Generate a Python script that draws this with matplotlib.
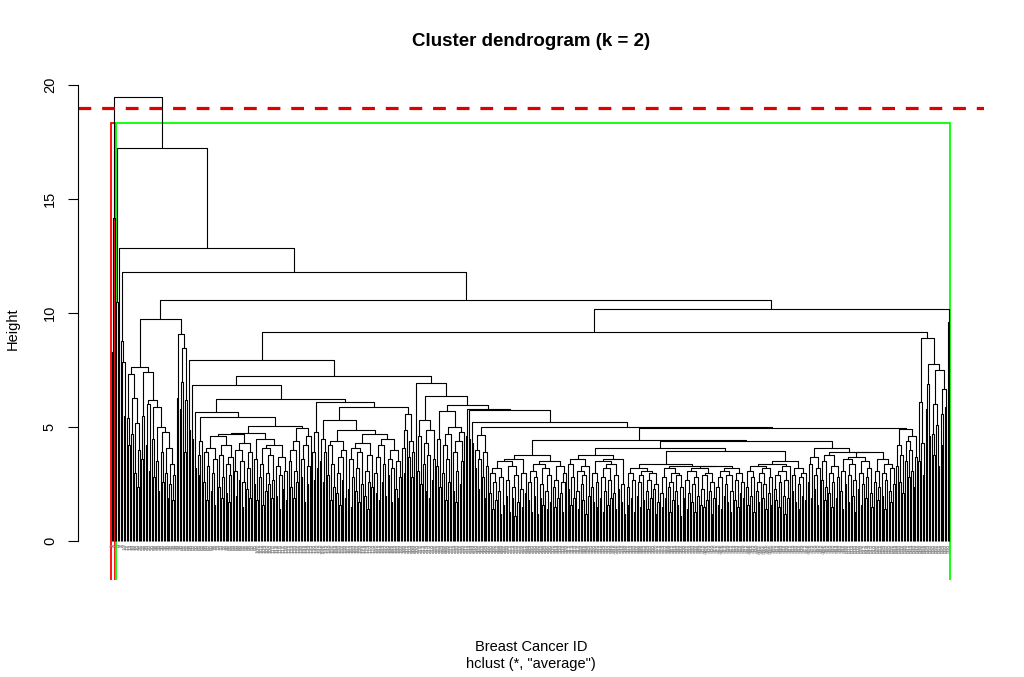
import sys
import numpy as np
import matplotlib
matplotlib.use("Agg")
import matplotlib.pyplot as plt
from matplotlib.collections import LineCollection
from matplotlib.patches import Rectangle

plt.rcParams['font.family'] = ['Liberation Sans', 'DejaVu Sans']

# merge height between neighbouring leaves (leaf k and k+1, in dendrogram order)
# 20 per row
merge_heights = [
    8.3, 14.2, 19.49, 10.5, 17.24, 12.85, 8.8, 7.85, 5.5, 11.8, 5.4, 4.2, 7.33, 4.7, 6.3, 3.0, 5.2, 2.4, 4.0, 7.63,
    3.6, 5.5, 7.44, 4.2, 6.0, 3.1, 6.2, 4.5, 2.8, 5.9, 3.5, 2.2, 5.0, 3.9, 2.6, 4.8, 3.0, 1.9, 4.1, 2.5,
    3.4, 1.8, 2.9, 9.74, 6.3, 9.08, 5.8, 7.0, 8.46, 3.9, 6.2, 10.6, 4.9, 7.94, 4.5, 6.84, 3.2, 5.66, 3.8, 2.9,
    4.4, 5.45, 2.6, 3.9, 1.8, 3.3, 4.1, 2.2, 3.0, 1.6, 3.6, 4.6, 2.4, 3.8, 1.9, 2.8, 4.2, 2.1, 3.4, 1.7,
    2.9, 3.7, 4.7, 3.1, 2.0, 4.0, 2.7, 3.5, 1.5, 2.6, 4.3, 2.3, 3.2, 1.9, 3.9, 4.74, 2.5, 3.6, 1.8, 4.5,
    2.8, 3.4, 1.6, 4.1, 2.2, 3.0, 2.5, 3.8, 1.9, 2.7, 4.2, 2.0, 3.3, 1.4, 2.9, 3.7, 2.3, 3.1, 1.8, 5.06,
    3.5, 2.4, 4.0, 1.9, 3.1, 2.6, 4.4, 4.96, 2.8, 3.6, 1.7, 4.2, 2.5, 3.3, 4.6, 6.24, 3.9, 2.7, 4.8, 3.2,
    6.1, 3.5, 4.5, 2.6, 3.9, 5.3, 2.9, 4.2, 1.8, 3.4, 2.4, 4.4, 2.1, 3.0, 1.6, 3.7, 2.7, 4.0, 1.9, 4.9,
    2.3, 3.6, 1.5, 2.8, 4.1, 2.2, 3.2, 1.7, 3.9, 2.5, 4.3, 2.0, 3.1, 1.4, 2.6, 3.8, 2.4, 4.7, 3.0, 2.1,
    3.7, 1.8, 4.2, 2.6, 3.4, 2.0, 4.5, 2.9, 3.6, 1.7, 3.2, 4.0, 2.3, 3.5, 1.9, 2.8, 5.88, 4.1, 3.0, 4.9,
    5.6, 3.7, 4.4, 2.8, 3.9, 7.24, 6.93, 3.1, 4.6, 2.5, 5.32, 3.4, 4.3, 2.2, 3.8, 1.9, 4.9, 2.7, 3.6, 6.37,
    3.3, 4.5, 2.4, 5.71, 3.0, 4.2, 1.8, 3.6, 2.6, 4.7, 5.0, 2.2, 3.9, 1.7, 3.1, 4.4, 2.5, 3.5, 4.8, 5.96,
    4.6, 5.79, 4.5, 5.74, 4.3, 5.22, 3.2, 4.0, 2.3, 3.6, 4.65, 2.8, 3.9, 1.9, 3.3, 5.0, 2.1, 3.0, 1.4, 2.6,
    1.8, 3.2, 2.2, 1.2, 2.8, 1.6, 3.5, 2.0, 2.7, 1.3, 3.3, 1.9, 2.4, 1.1, 2.9, 1.7, 3.6, 2.3, 1.5, 3.0,
    2.1, 3.77, 1.8, 2.6, 1.3, 3.1, 2.0, 2.8, 1.2, 3.4, 1.9, 2.5, 1.6, 3.2, 2.2, 1.4, 2.9, 1.7, 3.5, 2.4,
    1.5, 2.7, 1.9, 3.3, 2.1, 1.3, 2.6, 3.0, 4.44, 2.3, 3.4, 1.6, 2.8, 1.9, 3.6, 2.2, 1.4, 3.1, 2.5, 1.8,
    2.9, 1.2, 3.3, 2.0, 3.8, 2.4, 1.7, 3.0, 1.5, 2.6, 3.5, 1.9, 2.8, 1.3, 2.2, 3.2, 1.6, 2.7, 1.9, 3.4,
    2.1, 1.4, 2.9, 2.3, 3.6, 1.7, 2.5, 1.2, 4.1, 2.4, 1.6, 3.0, 1.9, 2.7, 1.3, 3.2, 2.0, 2.6, 1.5, 2.9,
    1.8, 3.1, 2.2, 1.4, 2.7, 1.9, 3.0, 2.3, 1.2, 2.5, 1.7, 3.38, 2.1, 1.5, 2.8, 1.9, 3.2, 2.4, 1.3, 2.6,
    1.8, 3.0, 2.2, 1.6, 2.9, 1.1, 2.4, 3.3, 1.9, 2.7, 1.4, 2.1, 3.1, 1.7, 2.5, 1.3, 2.8, 2.0, 3.2, 1.6,
    2.3, 1.5, 2.9, 1.8, 3.0, 2.2, 1.2, 2.6, 1.9, 3.3, 2.4, 1.6, 2.8, 1.4, 3.1, 2.0, 2.5, 1.7, 2.9, 1.3,
    2.2, 3.2, 1.8, 2.7, 1.5, 3.0, 2.1, 2.6, 1.9, 3.95, 2.4, 1.6, 3.1, 2.0, 2.8, 1.3, 3.3, 2.2, 1.7, 2.6,
    3.0, 1.9, 2.5, 1.4, 3.2, 2.1, 2.8, 1.6, 3.4, 2.3, 1.8, 2.9, 1.5, 2.6, 3.1, 2.0, 1.2, 2.7, 1.9, 3.3,
    3.5, 2.2, 2.9, 1.7, 3.2, 2.5, 1.4, 2.8, 2.0, 3.0, 1.8, 4.4, 2.6, 3.4, 1.9, 3.7, 2.3, 2.9, 1.6, 3.2,
    4.1, 2.7, 3.5, 1.8, 2.4, 3.8, 2.1, 3.0, 1.5, 2.6, 3.3, 1.9, 2.8, 3.9, 2.2, 1.4, 3.1, 2.5, 3.6, 1.7,
    2.9, 3.4, 2.0, 1.3, 2.7, 3.7, 2.3, 3.0, 1.6, 2.5, 3.5, 1.9, 2.8, 3.2, 2.1, 1.5, 3.9, 2.6, 3.1, 1.8,
    2.4, 3.6, 2.0, 3.0, 1.4, 2.7, 3.4, 2.2, 1.7, 3.2, 2.5, 4.96, 3.3, 4.2, 2.6, 3.8, 2.1, 4.92, 3.5, 4.4,
    2.8, 4.0, 3.1, 4.6, 2.4, 3.7, 9.17, 3.5, 6.1, 4.3, 2.9, 8.9, 5.8, 6.9, 4.6, 7.78, 4.7, 3.8, 6.0, 5.1,
    3.3, 7.5, 5.6, 4.2, 6.7, 5.9, 10.2, 9.63,
]

k_clusters = 2
cut_line = 19
rect_colors = ['red', '#00ff00']
yticks = [0, 5, 10, 15, 20]

gaps = np.array(merge_heights)
n_leaves = len(gaps) + 1
leaf_labels = [str(i) for i in range(1, n_leaves + 1)]

sys.setrecursionlimit(10000)
segs = []


def build(lo, hi):
    # node over leaves lo..hi: split at the highest neighbour merge
    if lo == hi:
        return lo + 1, 0.0
    k = lo + int(np.argmax(gaps[lo:hi]))
    xl, hl = build(lo, k)
    xr, hr = build(k + 1, hi)
    h = gaps[k]
    segs.append([(xl, hl), (xl, h), (xr, h), (xr, hr)])
    return (xl + xr) / 2, h


build(0, n_leaves - 1)

fig = plt.figure(figsize=(10.24, 6.77), dpi=100)
ax = fig.add_axes([78 / 1024, 97 / 677, 906 / 1024, 502 / 677])
ax.add_collection(LineCollection(segs, colors='black', linewidths=0.8))

ax.set_xlim(-22.06, 592.5)
ax.set_ylim(-1.70, 20.32)

for i, lab in enumerate(leaf_labels):
    ax.text(i + 1, -0.12, lab, rotation=90, ha='center', va='top',
            fontsize=4, color='#8c8c8c')

# rect.hclust style boxes for k clusters (bottom edge falls outside the plot region)
top2 = np.sort(gaps)[-k_clusters:]
cutoff = top2.mean()
split_idx = np.sort(np.argsort(gaps)[-(k_clusters - 1):]) + 1
bounds = [0] + list(split_idx) + [n_leaves]
for j in range(k_clusters):
    x0 = bounds[j] + 0.66
    x1 = bounds[j + 1] + 0.33
    ax.add_patch(Rectangle((x0, -2.5), x1 - x0, cutoff + 2.5, fill=False,
                           edgecolor=rect_colors[j], linewidth=1.3))

ax.axhline(cut_line, color='#e00000', linewidth=2.3, linestyle=(0, (4.0, 3.4)))

for s in ['top', 'right', 'bottom']:
    ax.spines[s].set_visible(False)
ax.spines['left'].set_bounds(0, 20)
ax.spines['left'].set_linewidth(0.8)
ax.set_xticks([])
ax.set_yticks(yticks)
ax.tick_params(axis='y', length=7.2, width=0.8, pad=8, labelsize=10.5, labelrotation=90)
for t in ax.get_yticklabels():
    t.set_va('center')

fig.text(531 / 1024, 1 - 41 / 677, 'Cluster dendrogram (k = 2)', ha='center', va='center',
         fontsize=13.5, fontweight='bold')
fig.text(13 / 1024, 1 - 329 / 677, 'Height', rotation=90, ha='center', va='center', fontsize=10.5)
fig.text(531 / 1024, 1 - 647 / 677, 'Breast Cancer ID', ha='center', va='center', fontsize=10.5)
fig.text(531 / 1024, 1 - 664 / 677, 'hclust (*, "average")', ha='center', va='center', fontsize=10.5)

fig.savefig('out.png', dpi=100)
